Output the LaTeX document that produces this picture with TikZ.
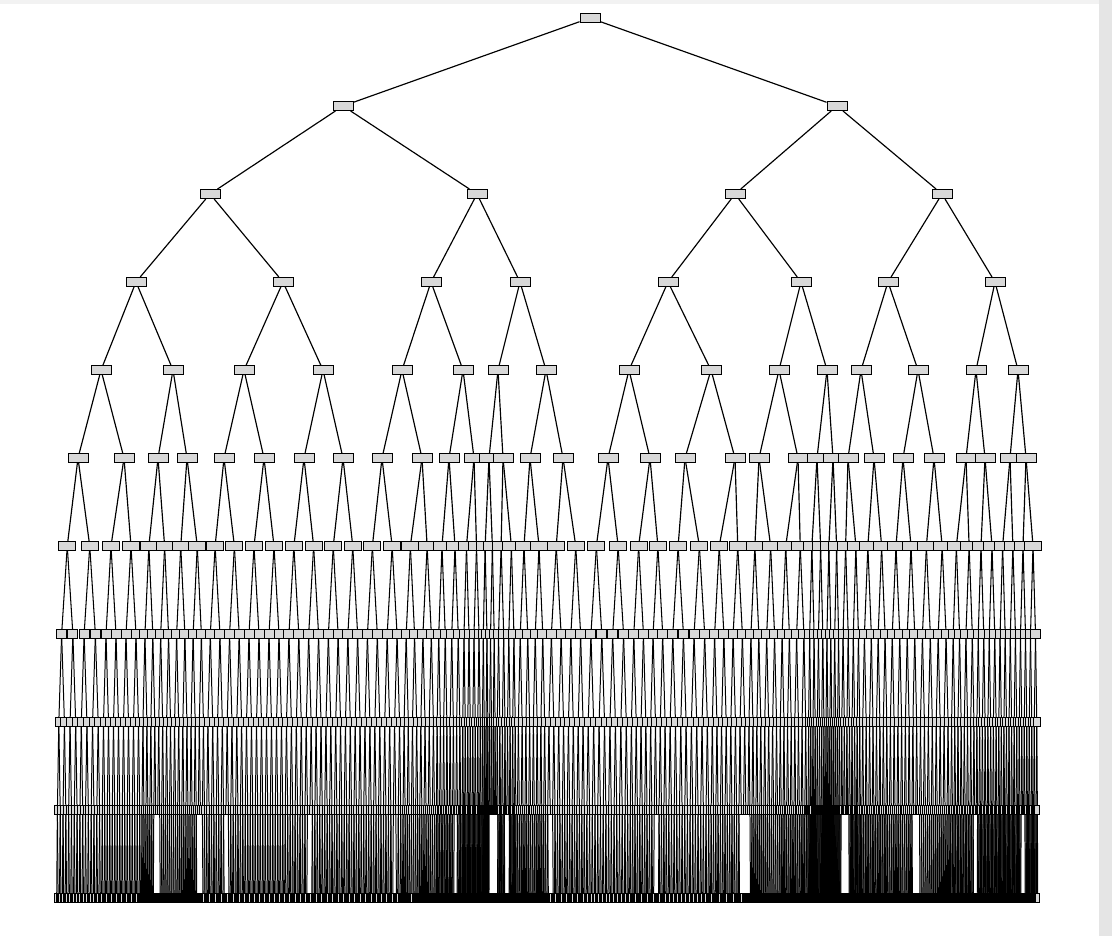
\documentclass[tikz,border=0pt]{standalone}
\definecolor{boxfill}{HTML}{D8D8D8}
\begin{document}
\begin{tikzpicture}[x=0.03cm,y=-0.03cm,
  tn/.style={draw=black, fill=boxfill, line width=0.85pt, inner sep=0pt, minimum height=0.27cm, minimum width=#1},
  tn/.default=0.6cm,
  edge/.style={line width=#1, draw=black},
  edge/.default=1pt]
\useasboundingbox (0,0) rectangle (1112,936);
\fill[white] (0,0) rectangle (1112,936);
\fill[black!5] (0,0) rectangle (1112,4);
\fill[black!10] (1099,0) rectangle (1112,936);
% levels 0-5
\node[tn] (n0-0) at (590,18) {};
\foreach \x [count=\j from 0] in {343,837} {\node[tn] (n1-\j) at (\x,106) {};}
\foreach \x [count=\j from 0] in {210,477,735,942} {\node[tn] (n2-\j) at (\x,194) {};}
\foreach \x [count=\j from 0] in {136,283,431,520,668,801,888,995} {\node[tn] (n3-\j) at (\x,282) {};}
\foreach \x [count=\j from 0] in {101,173,244,323,402,463,498,546,629,711,779,827,861,918,976,1018} {\node[tn] (n4-\j) at (\x,370) {};}
\foreach \x [count=\j from 0] in {78,124,158,187,224,264,304,343,382,422,449,474,489,503,530,563,608,650,685,735,759,798,817,833,848,874,903,934,966,985,1010,1026} {\node[tn] (n5-\j) at (\x,458) {};}
% levels 6-10
\def\BL{{56,101,141,172.5,205.5,244,284,323.5,362.5,402,435.5,461.5,481.5,496,516.5,546.5,585.5,629,667.5,710,747,778.5,807.5,825,840.5,861,888.5,918.5,950,975.5,997.5,1018}}
\def\BR{{101,141,172.5,205.5,244,284,323.5,362.5,402,435.5,461.5,481.5,496,516.5,546.5,585.5,629,667.5,710,747,778.5,807.5,825,840.5,861,888.5,918.5,950,975.5,997.5,1018,1038}}
\foreach \L/\w in {6/0.51cm,7/0.3cm,8/0.21cm,9/0.15cm,10/0.12cm} {
  \pgfmathtruncatemacro\N{2^\L-1}
  \pgfmathtruncatemacro\S{2^(\L-5)}
  \pgfmathsetmacro\Y{18+88*\L}
  \foreach \j in {0,...,\N} {
    \pgfmathtruncatemacro\i{int(\j/\S)}
    \pgfmathsetmacro\X{\BL[\i]+(\j-\i*\S+0.5)*(\BR[\i]-\BL[\i])/\S}
    \node[tn=\w] (n\L-\j) at (\X,\Y) {};
  }
}
% edges, levels 1-9
\foreach \L/\lw in {1/1pt,2/1pt,3/1pt,4/1pt,5/1pt,6/1pt,7/0.9pt,8/0.85pt,9/0.85pt} {
  \pgfmathtruncatemacro\N{2^\L-1}
  \pgfmathtruncatemacro\P{\L-1}
  \foreach \j in {0,...,\N} {
    \pgfmathtruncatemacro\p{int(\j/2)}
    \draw[edge=\lw] (n\P-\p) -- (n\L-\j);
  }
}
% edges to level 10, leaving the gaps of the reference
\foreach \j in {0,...,1023} {
  \pgfmathtruncatemacro\i{int(\j/32)}
  \pgfmathsetmacro\X{\BL[\i]+(\j-\i*32+0.5)*(\BR[\i]-\BL[\i])/32}
  \pgfmathsetmacro\g{((\X>154)&&(\X<160))||((\X>197)&&(\X<202))||((\X>225)&&(\X<228))||((\X>307)&&(\X<311))||((\X>393)&&(\X<396))||((\X>454)&&(\X<457))||((\X>489)&&(\X<497))||((\X>505)&&(\X<509))||((\X>549)&&(\X<553))||((\X>654)&&(\X<658))||((\X>740)&&(\X<750))||((\X>841)&&(\X<849))||((\X>913)&&(\X<919))||((\X>974)&&(\X<977))||((\X>1021)&&(\X<1025))}
  \pgfmathtruncatemacro\p{int(\j/2)}
  \ifdim\g pt<0.5pt
    \draw[edge=0.85pt] (n9-\p) -- (n10-\j);
  \fi
}
\end{tikzpicture}
\end{document}
